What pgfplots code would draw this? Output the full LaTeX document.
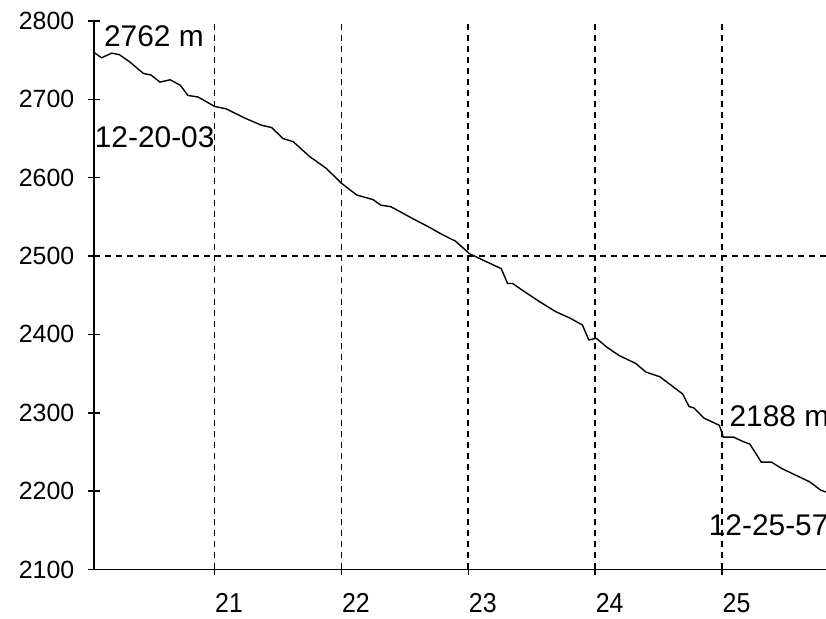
\documentclass[border=0pt]{standalone}
\usepackage{pgfplots}
\pgfplotsset{compat=1.18}
\usepackage{fontspec}
\setmainfont{Liberation Sans}
\begin{document}
\begin{tikzpicture}
\begin{axis}[
  scale only axis=true,
  width=732bp, height=548.5bp,
  xmin=20.05, xmax=25.82,
  ymin=2100, ymax=2800,
  axis lines*=left,
  axis line style={line width=1.8bp, black},
  xtick={21,22,23,24,25},
  ytick={2100,2200,2300,2400,2500,2600,2700,2800},
  tick align=center,
  major tick length=11bp,
  tick style={line width=1.5bp, black},
  scaled x ticks=false, scaled y ticks=false,
  /pgf/number format/assume math mode=true,
  /pgf/number format/1000 sep={},
  tick label style={font=\fontsize{25}{30}\selectfont, inner sep=0pt},
  xticklabel={\scalebox{1}[1.1]{\pgfmathprintnumber{\tick}}},
  xticklabel style={anchor=north west, yshift=-18bp, xshift=0.5bp},
  yticklabel style={anchor=east, xshift=-14bp},
  xmajorgrids=true,
  extra y ticks={2500},
  extra y tick labels={},
  extra y tick style={ymajorgrids=true, major tick length=0pt},
  grid style={black, line width=1.6bp, dash pattern=on 6bp off 5bp},
  clip=false,
]
\addplot[black, line width=1.4bp] coordinates {
(20.05,2760) (20.11,2753) (20.19,2759) (20.25,2757) (20.33,2748) (20.44,2733)
(20.50,2731) (20.57,2722) (20.65,2725) (20.73,2718) (20.79,2705) (20.87,2703)
(21.00,2691) (21.09,2688) (21.24,2676) (21.37,2667) (21.45,2664) (21.54,2650)
(21.62,2646) (21.75,2627) (21.88,2612) (22.00,2593) (22.12,2578) (22.25,2572)
(22.31,2565) (22.39,2563) (22.56,2548) (22.69,2537) (22.80,2527) (22.90,2519)
(23.01,2503) (23.14,2493) (23.26,2484) (23.31,2465) (23.35,2465) (23.43,2456)
(23.56,2442) (23.69,2429) (23.80,2421) (23.90,2412) (23.95,2393) (24.01,2395)
(24.09,2384) (24.19,2373) (24.32,2363) (24.40,2352) (24.51,2346) (24.60,2335)
(24.69,2324) (24.74,2308) (24.78,2306) (24.86,2293) (24.98,2284) (25.01,2269)
(25.09,2269) (25.17,2263) (25.22,2260) (25.31,2237) (25.39,2237) (25.47,2229)
(25.56,2222) (25.69,2212) (25.78,2201) (25.82,2199)
};
\node[anchor=base west, inner sep=0pt, font=\fontsize{30}{36}\selectfont] at (axis cs:20.128,2767) {2762 m};
\node[anchor=base west, inner sep=0pt, font=\fontsize{30}{36}\selectfont] at (axis cs:20.055,2639) {12-20-03};
\node[anchor=base west, inner sep=0pt, font=\fontsize{30}{36}\selectfont] at (axis cs:25.058,2282) {2188 m};
\node[anchor=base west, inner sep=0pt, font=\fontsize{30}{36}\selectfont] at (axis cs:24.895,2144) {12-25-57};
\end{axis}
\pgfresetboundingbox
\path[use as bounding box] ([xshift=-94bp,yshift=-49.5bp]current axis.south west) rectangle ([yshift=21bp]current axis.north east);
\end{tikzpicture}
\end{document}
